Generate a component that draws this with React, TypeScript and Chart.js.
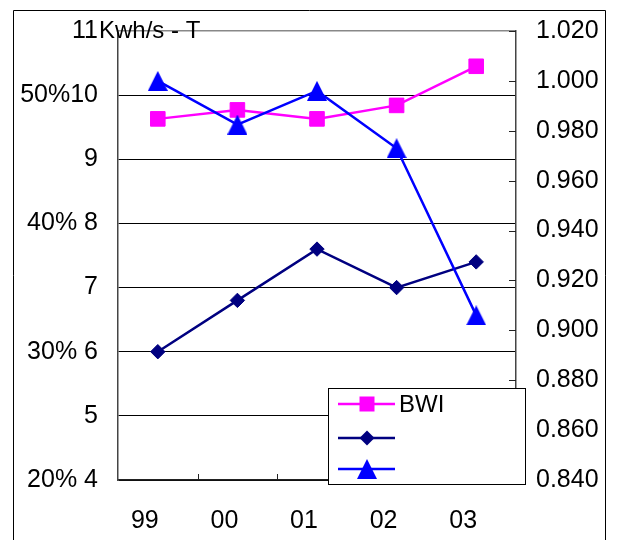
import React, { useEffect, useRef } from 'react';
import { Chart, registerables } from 'chart.js';

Chart.register(...registerables);

const YEARS = ['99', '00', '01', '02', '03'];
const SERIES_LABELS = ['BWI', '', ''];
const BWI = [9.63, 9.77, 9.63, 9.84, 10.45];
const SERIES2 = [6.0, 6.8, 7.6, 7.0, 7.4];
const SERIES3 = [1.0, 0.9825, 0.996, 0.973, 0.906];
const LEFT_TICK_LABELS = ['20% 4', '5', '30% 6', '7', '40% 8', '9', '50%10', '11'];
const LEFT_UNIT = 'Kwh/s - T';
const LEFT_MIN = 4;
const LEFT_MAX = 11;
const RIGHT_MIN = 0.84;
const RIGHT_MAX = 1.02;
const RIGHT_STEP = 0.02;

const FONT = '"Liberation Sans", Arial, sans-serif';
const PINK = '#FF00FF';
const NAVY = '#000080';
const BLUE = '#0000FF';

function makeTriangle(color: string): HTMLCanvasElement {
  const c = document.createElement('canvas');
  c.width = 20;
  c.height = 20;
  const g = c.getContext('2d')!;
  g.fillStyle = color;
  g.beginPath();
  g.moveTo(10, 0);
  g.lineTo(20, 20);
  g.lineTo(0, 20);
  g.closePath();
  g.fill();
  return c;
}

function drawMarker(ctx: CanvasRenderingContext2D, style: any, x: number, y: number, color: string) {
  ctx.fillStyle = color;
  if (style === 'rect') {
    ctx.fillRect(x - 7.5, y - 7.5, 15, 15);
  } else if (style === 'rectRot') {
    ctx.beginPath();
    ctx.moveTo(x - 7.5, y);
    ctx.lineTo(x, y - 7.5);
    ctx.lineTo(x + 7.5, y);
    ctx.lineTo(x, y + 7.5);
    ctx.closePath();
    ctx.fill();
  } else if (style && style.width) {
    ctx.drawImage(style, x - style.width / 2, y - style.height / 2);
  }
}

const decorPlugin = {
  id: 'decor',
  beforeDraw(chart: any) {
    const ctx = chart.ctx;
    ctx.save();
    ctx.fillStyle = 'white';
    ctx.fillRect(0, 0, chart.width, chart.height);
    ctx.strokeStyle = 'black';
    ctx.lineWidth = 1;
    ctx.beginPath();
    ctx.moveTo(13.5, chart.height);
    ctx.lineTo(13.5, 10.5);
    ctx.lineTo(605.5, 10.5);
    ctx.lineTo(605.5, chart.height);
    ctx.stroke();
    ctx.restore();
  },
  afterDraw(chart: any) {
    const ctx = chart.ctx;
    const xs = chart.scales.x;
    const ys = chart.scales.y;
    const y1 = chart.scales.y1;
    ctx.save();
    // x-axis inner tick marks at category boundaries
    ctx.strokeStyle = '#222';
    ctx.lineWidth = 1;
    for (let i = 1; i < YEARS.length; i++) {
      const px = Math.round((xs.getPixelForValue(i - 1) + xs.getPixelForValue(i)) / 2) + 0.5;
      ctx.beginPath();
      ctx.moveTo(px, xs.top);
      ctx.lineTo(px, xs.top - 6);
      ctx.stroke();
    }
    // right-axis inner tick marks
    y1.ticks.forEach((t: any) => {
      const py = Math.round(y1.getPixelForValue(t.value)) + 0.5;
      ctx.beginPath();
      ctx.moveTo(y1.left, py);
      ctx.lineTo(y1.left - 7, py);
      ctx.stroke();
    });
    // left axis unit text after the top tick label
    ctx.fillStyle = 'black';
    ctx.font = '24px ' + FONT;
    ctx.textAlign = 'left';
    ctx.textBaseline = 'middle';
    ctx.fillText(LEFT_UNIT, ys.right - 19, ys.getPixelForValue(LEFT_MAX));

    // legend box
    const lx = 328.5, ly = 388.5, lw = 197, lh = 96;
    ctx.fillStyle = 'white';
    ctx.fillRect(lx, ly, lw, lh);
    ctx.strokeStyle = 'black';
    ctx.lineWidth = 1;
    ctx.strokeRect(lx, ly, lw, lh);
    const rows = [404, 438, 469];
    chart.data.datasets.forEach((ds: any, i: number) => {
      const ry = rows[i];
      ctx.strokeStyle = ds.borderColor;
      ctx.lineWidth = 2.5;
      ctx.beginPath();
      ctx.moveTo(338, ry);
      ctx.lineTo(395, ry);
      ctx.stroke();
      drawMarker(ctx, ds.pointStyle, 367, ry, ds.backgroundColor);
      if (ds.label) {
        ctx.fillStyle = 'black';
        ctx.font = '24px ' + FONT;
        ctx.textAlign = 'left';
        ctx.textBaseline = 'middle';
        ctx.fillText(ds.label, 399, ry + 1);
      }
    });
    ctx.restore();
  },
};

export default function App() {
  const ref = useRef<HTMLCanvasElement | null>(null);

  useEffect(() => {
    if (!ref.current) return;
    Chart.defaults.font.family = FONT;
    const tri = makeTriangle(BLUE);
    const chart = new Chart(ref.current, {
      type: 'line',
      data: {
        labels: YEARS,
        datasets: [
          {
            label: SERIES_LABELS[0],
            data: BWI,
            yAxisID: 'y',
            borderColor: PINK,
            backgroundColor: PINK,
            borderWidth: 2.5,
            pointStyle: 'rect',
            pointRadius: 10.3,
            pointBorderWidth: 1,
            pointBorderColor: PINK,
            pointBackgroundColor: PINK,
            order: 1,
          },
          {
            label: SERIES_LABELS[1],
            data: SERIES2,
            yAxisID: 'y',
            borderColor: NAVY,
            backgroundColor: NAVY,
            borderWidth: 2.5,
            pointStyle: 'rectRot',
            pointRadius: 7.2,
            pointBorderWidth: 1,
            pointBorderColor: NAVY,
            pointBackgroundColor: NAVY,
            order: 2,
          },
          {
            label: SERIES_LABELS[2],
            data: SERIES3,
            yAxisID: 'y1',
            borderColor: BLUE,
            backgroundColor: BLUE,
            borderWidth: 2.5,
            pointStyle: tri as any,
            pointRadius: 10,
            order: 0,
          },
        ],
      },
      options: {
        animation: false,
        responsive: false,
        devicePixelRatio: 1,
        events: [],
        layout: { autoPadding: false, padding: { top: 31, left: 0, right: 0, bottom: 0 } },
        plugins: {
          legend: { display: false },
          tooltip: { enabled: false },
        },
        scales: {
          x: {
            offset: true,
            grid: { drawOnChartArea: false, drawTicks: false },
            border: { color: '#222', width: 1.5 },
            ticks: {
              color: 'black',
              font: { size: 25 },
              padding: 26,
              labelOffset: -13,
              maxRotation: 0,
              autoSkip: false,
            },
            afterFit: (s: any) => {
              s.height = 60;
              s.paddingLeft = 0;
              s.paddingRight = 0;
            },
          },
          y: {
            position: 'left',
            min: LEFT_MIN,
            max: LEFT_MAX,
            grid: {
              color: (c: any) => (c.tick && c.tick.value === LEFT_MAX ? '#888' : 'black'),
              lineWidth: (c: any) => (c.tick && c.tick.value === LEFT_MAX ? 1.5 : 1),
              drawTicks: false,
            },
            border: { color: '#444', width: 1.5 },
            ticks: {
              stepSize: 1,
              padding: 20,
              color: 'black',
              font: { size: 25 },
              autoSkip: false,
              callback: (v: any) => LEFT_TICK_LABELS[Math.round(Number(v) - LEFT_MIN)] ?? '',
            },
            afterFit: (s: any) => {
              s.width = 118;
              s.paddingTop = 0;
              s.paddingBottom = 0;
            },
          },
          y1: {
            position: 'right',
            min: RIGHT_MIN,
            max: RIGHT_MAX,
            grid: { drawOnChartArea: false, drawTicks: false },
            border: { color: '#444', width: 1.5 },
            ticks: {
              stepSize: RIGHT_STEP,
              padding: 20,
              color: 'black',
              font: { size: 25 },
              autoSkip: false,
              callback: (v: any) => Number(v).toFixed(3),
            },
            afterFit: (s: any) => {
              s.width = 104;
              s.paddingTop = 0;
              s.paddingBottom = 0;
            },
          },
        },
      },
      plugins: [decorPlugin],
    });
    return () => chart.destroy();
  }, []);

  return (
    <div style={{ position: 'absolute', left: 0, top: 0, width: 620, height: 540 }}>
      <canvas ref={ref} width={620} height={540} style={{ display: 'block' }} />
    </div>
  );
}
